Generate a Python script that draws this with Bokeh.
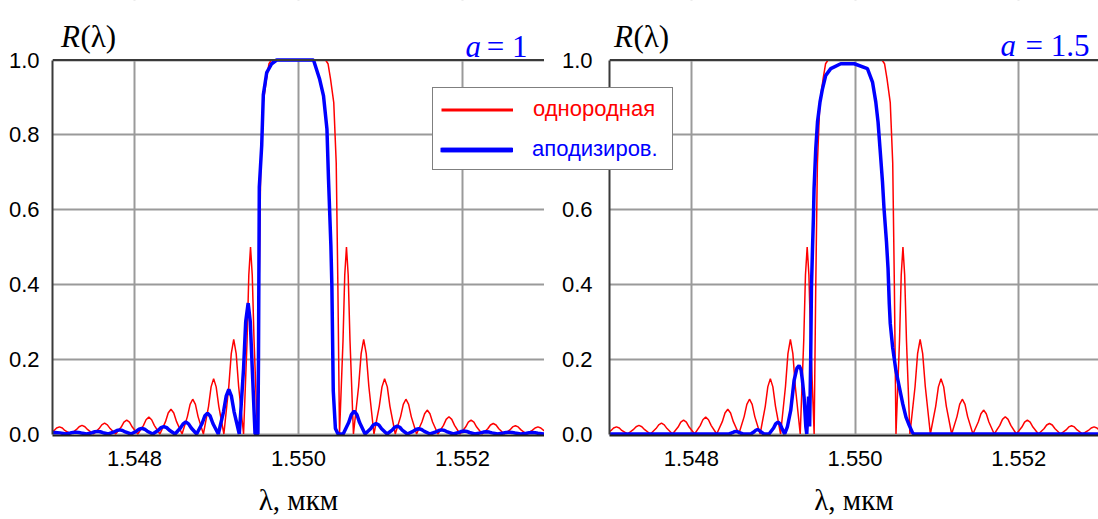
import numpy as np
from bokeh.plotting import figure
from bokeh.models import (Range1d, FixedTicker, Label, Span, Legend, LegendItem,
                          NumeralTickFormatter, BoxAnnotation)
from bokeh.layouts import row
from bokeh.embed import file_html
from bokeh.resources import INLINE

# ---------------- data ----------------
x_ticks = [1.548, 1.550, 1.552]
y_ticks = [0.0, 0.2, 0.4, 0.6, 0.8, 1.0]
panel_params = ["1", "1.5"]
legend_labels = ["однородная", "аподизиров."]

# uniform grating (red), identical in both panels
uniform_wl = [
    1.54700, 1.54702, 1.54705, 1.547085, 1.54712, 1.54715, 1.54722,
    1.54729, 1.547325, 1.54736, 1.547395, 1.54743, 1.54750,
    1.547568, 1.547601, 1.547635, 1.547669, 1.547703, 1.54777,
    1.547838, 1.547871, 1.547905, 1.547939, 1.547973, 1.54804,
    1.548108, 1.548141, 1.548175, 1.548209, 1.548243, 1.54831,
    1.548378, 1.548411, 1.548445, 1.548479, 1.548513, 1.54858,
    1.548645, 1.548678, 1.54871, 1.548743, 1.548775, 1.54884,
    1.548903, 1.548934, 1.548965, 1.548996, 1.549028, 1.54909,
    1.54915, 1.54918, 1.54921, 1.54924, 1.54927, 1.54933,
    1.549373, 1.549394, 1.549415, 1.549436, 1.549458, 1.54950,
    1.54952, 1.54954, 1.54957, 1.54961, 1.54964, 1.54967,
    1.55033, 1.55036, 1.55039, 1.55043, 1.55046, 1.55048, 1.55050,
    1.550543, 1.550564, 1.550585, 1.550606, 1.550628, 1.55067,
    1.550733, 1.550764, 1.550795, 1.550826, 1.550858, 1.55092,
    1.550985, 1.551018, 1.55105, 1.551083, 1.551115, 1.55118,
    1.551245, 1.551278, 1.55131, 1.551343, 1.551375, 1.55144,
    1.551505, 1.551538, 1.55157, 1.551603, 1.551635, 1.55170,
    1.551768, 1.551801, 1.551835, 1.551869, 1.551903, 1.55197,
    1.552038, 1.552071, 1.552105, 1.552139, 1.552173, 1.55224,
    1.552308, 1.552341, 1.552375, 1.552409, 1.552443, 1.55251,
    1.552578, 1.552611, 1.552645, 1.552679, 1.552713, 1.55278,
    1.55285, 1.552885, 1.55292, 1.552955, 1.55299, 1.55306]
uniform_R = [
    0.006, 0.0095, 0.016, 0.019, 0.016, 0.0095, 0.0,
    0.0115, 0.0195, 0.023, 0.0195, 0.0115, 0.0,
    0.0145, 0.0245, 0.029, 0.0245, 0.0145, 0.0,
    0.0185, 0.0315, 0.037, 0.0315, 0.0185, 0.0,
    0.0225, 0.038, 0.045, 0.038, 0.0225, 0.0,
    0.033, 0.056, 0.066, 0.056, 0.033, 0.0,
    0.0465, 0.079, 0.093, 0.079, 0.0465, 0.0,
    0.074, 0.126, 0.148, 0.126, 0.074, 0.0,
    0.127, 0.215, 0.253, 0.215, 0.127, 0.0,
    0.25, 0.425, 0.50, 0.425, 0.25, 0.0,
    0.40, 0.725, 0.886, 0.95, 0.99, 1.0,
    1.0, 0.99, 0.95, 0.886, 0.725, 0.40, 0.0,
    0.25, 0.425, 0.50, 0.425, 0.25, 0.0,
    0.127, 0.215, 0.253, 0.215, 0.127, 0.0,
    0.074, 0.126, 0.148, 0.126, 0.074, 0.0,
    0.0465, 0.079, 0.093, 0.079, 0.0465, 0.0,
    0.032, 0.054, 0.064, 0.054, 0.032, 0.0,
    0.023, 0.039, 0.046, 0.039, 0.023, 0.0,
    0.0185, 0.0315, 0.037, 0.0315, 0.0185, 0.0,
    0.014, 0.024, 0.028, 0.024, 0.014, 0.0,
    0.011, 0.019, 0.022, 0.019, 0.011, 0.0,
    0.0095, 0.016, 0.019, 0.016, 0.0095, 0.0]

# apodized grating, a = 1 (blue, left panel)
apod1_wl = [
    1.54700, 1.54703, 1.54709, 1.54713, 1.547152,
    1.547218, 1.547251, 1.547285, 1.547317, 1.54735, 1.547417,
    1.547483, 1.547516, 1.547549, 1.547582, 1.547615, 1.547681,
    1.54775, 1.547785, 1.547819, 1.547854, 1.547888, 1.547957,
    1.548023, 1.548056, 1.54809, 1.548123, 1.548156, 1.548222,
    1.54829, 1.548324, 1.548358, 1.548392, 1.548426, 1.548494,
    1.54856, 1.548593, 1.548626, 1.548659, 1.548692, 1.548758,
    1.548824, 1.548857, 1.54889, 1.548923, 1.548956, 1.549022,
    1.549086, 1.549118, 1.54915, 1.549182, 1.549214, 1.549278,
    1.549330, 1.549356, 1.549386, 1.549412, 1.549436, 1.549470,
    1.549505, 1.549512, 1.549522, 1.549551, 1.549571, 1.549612, 1.549673, 1.549734,
    1.550183, 1.550256, 1.550305, 1.550347, 1.550366, 1.550395, 1.550407,
    1.550424, 1.550450, 1.550482, 1.550545,
    1.550612, 1.550645, 1.550679, 1.550712, 1.550745, 1.550812,
    1.550879, 1.550912, 1.550946, 1.55098, 1.551013, 1.55108,
    1.551142, 1.551173, 1.551204, 1.551235, 1.551265, 1.551327,
    1.551396, 1.551431, 1.551466, 1.5515, 1.551535, 1.551604,
    1.551675, 1.551711, 1.551746, 1.551782, 1.551817, 1.551888,
    1.551954, 1.551986, 1.552019, 1.552052, 1.552085, 1.55215,
    1.55222, 1.552255, 1.55229, 1.552325, 1.55236, 1.55243,
    1.5525, 1.552535, 1.55257, 1.552605, 1.55264, 1.55271,
    1.55278, 1.552815, 1.55285, 1.552885, 1.55292, 1.55299, 1.55306]
apod1_R = [
    0.0035, 0.004, 0.003, 0.0015, 0.0,
    0.0025, 0.0043, 0.005, 0.0043, 0.0025, 0.0,
    0.0035, 0.006, 0.007, 0.006, 0.0035, 0.0,
    0.0055, 0.0094, 0.011, 0.0094, 0.0055, 0.0,
    0.0075, 0.0128, 0.015, 0.0128, 0.0075, 0.0,
    0.010, 0.017, 0.020, 0.017, 0.010, 0.0,
    0.016, 0.027, 0.032, 0.027, 0.016, 0.0,
    0.028, 0.048, 0.056, 0.048, 0.028, 0.0,
    0.060, 0.101, 0.119, 0.101, 0.060, 0.0,
    0.175, 0.300, 0.350, 0.300, 0.175, 0.0,
    0.0, 0.20, 0.66, 0.77, 0.907, 0.966, 0.99, 1.0,
    1.0, 0.95, 0.904, 0.815, 0.681, 0.503, 0.396,
    0.115, 0.015, 0.0, 0.0,
    0.0305, 0.052, 0.061, 0.052, 0.0305, 0.0,
    0.014, 0.024, 0.028, 0.024, 0.014, 0.0,
    0.0105, 0.018, 0.021, 0.018, 0.0105, 0.0,
    0.007, 0.012, 0.014, 0.012, 0.007, 0.0,
    0.0055, 0.0094, 0.011, 0.0094, 0.0055, 0.0,
    0.004, 0.0068, 0.008, 0.0068, 0.004, 0.0,
    0.003, 0.0051, 0.006, 0.0051, 0.003, 0.0,
    0.0025, 0.0043, 0.005, 0.0043, 0.0025, 0.0,
    0.002, 0.0034, 0.004, 0.0034, 0.002, 0.0, 0.002]

# apodized grating, a = 1.5 (blue, right panel)
apod15_wl = [
    1.54700, 1.54846,
    1.548503, 1.548524, 1.548545, 1.548566, 1.548588, 1.54863,
    1.548726, 1.548767, 1.548787, 1.548808, 1.548828, 1.548848, 1.548889,
    1.548949, 1.549005, 1.54903, 1.549058, 1.549083, 1.549105, 1.54914,
    1.549174, 1.549214, 1.549255, 1.54929, 1.549316, 1.54934, 1.549357, 1.549377,
    1.549398, 1.54941, 1.549432, 1.549445, 1.549458,
    1.549467, 1.549480, 1.549492, 1.549499, 1.549520, 1.549541, 1.549572,
    1.549602, 1.549642, 1.549703, 1.549825, 1.549990,
    1.550151, 1.550213, 1.550253, 1.550281, 1.550305, 1.550335, 1.550354,
    1.550384, 1.550403, 1.550418, 1.550430, 1.550459, 1.550499, 1.550540,
    1.550582, 1.550622, 1.550662, 1.550703, 1.550720, 1.55306]
apod15_R = [
    0.0, 0.0,
    0.0035, 0.006, 0.007, 0.006, 0.0035, 0.0,
    0.0, 0.006, 0.010, 0.012, 0.010, 0.006, 0.0,
    0.0, 0.016, 0.027, 0.032, 0.027, 0.016, 0.0,
    0.02, 0.063, 0.143, 0.176, 0.183, 0.172, 0.143, 0.099,
    0.02, 0.0, 0.10, 0.02, 0.20,
    0.389, 0.495, 0.585, 0.656, 0.763, 0.834, 0.888,
    0.923, 0.959, 0.977, 0.99, 0.99,
    0.977, 0.941, 0.888, 0.834, 0.763, 0.674, 0.602,
    0.513, 0.442, 0.348, 0.295, 0.232, 0.170, 0.126,
    0.081, 0.045, 0.023, 0.003, 0.0, 0.0]

# ---------------- styling ----------------
RED = "#ff0000"
BLUE = "#0000ff"
GRID = "#9a9a9a"
AXIS = "#3a3a3a"
SANS = "Liberation Sans"
SERIF = "Liberation Serif"
PAGE_W = 1098
FRAME_H = 435          # every figure: frame from the page top down to y = 435
BOTTOM = 84            # border below the frame
ZERO_PX = 433.5        # page row of R = 0
PX_PER_UNIT = 374.0    # vertical pixels for R = 0 .. 1


def make_panel(apod_wl, apod_R, frame_w, x_end, border_left, y_standoff):
    y0 = -(FRAME_H - ZERO_PX) / PX_PER_UNIT
    y1 = ZERO_PX / PX_PER_UNIT
    p = figure(output_backend="svg", toolbar_location=None,
               frame_width=frame_w, frame_height=FRAME_H,
               x_range=Range1d(1.547, x_end), y_range=Range1d(y0, y1),
               min_border_left=border_left, min_border_right=0,
               min_border_top=0, min_border_bottom=BOTTOM)
    p.outline_line_color = None
    p.background_fill_color = "white"
    p.border_fill_color = None

    p.xaxis.ticker = FixedTicker(ticks=x_ticks)
    p.yaxis.ticker = FixedTicker(ticks=y_ticks)
    p.xaxis.formatter = NumeralTickFormatter(format="0.000")
    p.yaxis.formatter = NumeralTickFormatter(format="0.0")
    p.yaxis.bounds = (0.0, 1.0)
    for ax in (p.xaxis, p.yaxis):
        ax.major_tick_line_color = None
        ax.minor_tick_line_color = None
        ax.major_tick_out = 0
        ax.major_tick_in = 0
        ax.major_label_text_font = SANS
        ax.major_label_text_font_size = "22px"
        ax.major_label_text_color = "black"
        ax.axis_line_width = 2
    p.yaxis.axis_line_color = AXIS
    p.xaxis.axis_line_color = "#202020"
    p.yaxis.major_label_standoff = y_standoff
    p.xaxis.major_label_standoff = 15
    p.xaxis.axis_label = "λ, мкм"
    p.xaxis.axis_label_text_font = SERIF
    p.xaxis.axis_label_text_font_style = "normal"
    p.xaxis.axis_label_text_font_size = "29px"
    p.xaxis.axis_label_text_color = "black"
    p.xaxis.axis_label_standoff = 15

    p.xgrid.ticker = FixedTicker(ticks=x_ticks)
    p.ygrid.ticker = FixedTicker(ticks=y_ticks)
    p.grid.grid_line_color = GRID
    p.grid.grid_line_width = 2

    # keep the grid inside 0 <= R <= 1 (white above and below)
    p.add_layout(BoxAnnotation(bottom=1.0, fill_color="white", fill_alpha=1.0,
                               line_alpha=0, level="underlay"))
    p.add_layout(BoxAnnotation(top=0.0, fill_color="white", fill_alpha=1.0,
                               line_alpha=0, level="underlay"))

    p.line(uniform_wl, uniform_R, line_color=RED, line_width=1.5)
    p.line(apod_wl, apod_R, line_color=BLUE, line_width=3.5)

    p.add_layout(Span(location=1.0, dimension="width", line_color=AXIS, line_width=2))
    return p


left = make_panel(apod1_wl, apod1_R, 492, 1.553, 52, 13)
right = make_panel(apod15_wl, apod15_R, 489, 1.552974, 65, 17)

# ---------- transparent overlay (page coordinates): titles and shared legend ----------
ov = figure(output_backend="svg", toolbar_location=None,
            frame_width=PAGE_W, frame_height=FRAME_H,
            x_range=Range1d(0, PAGE_W), y_range=Range1d(FRAME_H, 0),
            x_axis_type=None, y_axis_type=None,
            min_border=0, min_border_left=0, min_border_right=0,
            min_border_top=0, min_border_bottom=BOTTOM)
ov.outline_line_color = None
ov.background_fill_color = None
ov.border_fill_color = None
ov.margin = (0, 0, 0, -PAGE_W)

title_specs = [
    # (R x, a x, right edge of "= ..", R baseline, a baseline, parameter)
    (60.5, 465, 527, 36, 46, panel_params[0]),
    (613.5, 1000, 1089, 36, 45, panel_params[1]),
]
for rx, ax_, eq_right, rb, ab, prm in title_specs:
    ov.add_layout(Label(x=rx, y=rb, text="R", text_font=SERIF,
                        text_font_style="italic", text_font_size="31px",
                        text_color="black", text_baseline="alphabetic"))
    ov.add_layout(Label(x=rx + 19.5, y=rb, text="(λ)", text_font=SERIF,
                        text_font_size="31px", text_color="black",
                        text_baseline="alphabetic"))
    ov.add_layout(Label(x=ax_, y=ab, text="a", text_font=SERIF,
                        text_font_style="italic", text_font_size="31px",
                        text_color=BLUE, text_baseline="alphabetic"))
    ov.add_layout(Label(x=eq_right, y=ab, text="= " + prm, text_font=SERIF,
                        text_font_size="31px", text_color=BLUE,
                        text_align="right", text_baseline="alphabetic"))

# legend proxies: one undefined point each, so nothing is drawn in the overlay
g_red = ov.line(x=np.array([np.nan]), y=np.array([np.nan]), line_color=RED, line_width=3)
g_blue = ov.line(x=np.array([np.nan]), y=np.array([np.nan]), line_color=BLUE, line_width=4.5)

LEG_X, LEG_BOTTOM = 432, 170
leg1 = Legend(items=[LegendItem(label=legend_labels[0], renderers=[g_red]),
                     LegendItem(label=" ", renderers=[g_blue])],
              location=(LEG_X, FRAME_H - LEG_BOTTOM))
leg2 = Legend(items=[LegendItem(label=legend_labels[1], renderers=[g_blue])],
              location=(LEG_X, FRAME_H - LEG_BOTTOM))
for lg, col in ((leg1, RED), (leg2, BLUE)):
    lg.padding = 8
    lg.margin = 0
    lg.spacing = 16
    lg.glyph_width = 72
    lg.glyph_height = 23
    lg.label_height = 23
    lg.label_standoff = 20
    lg.label_text_font = SANS
    lg.label_text_font_size = "22px"
    lg.label_text_color = col
    lg.label_text_baseline = "middle"
leg1.label_width = 131
leg1.border_line_color = "black"
leg1.border_line_width = 1
leg1.background_fill_color = "white"
leg1.background_fill_alpha = 1.0
leg2.border_line_alpha = 0
leg2.background_fill_alpha = 0
ov.add_layout(leg1, "center")
ov.add_layout(leg2, "center")

layout = row(left, right, ov)
open("out.html", "w").write(file_html(layout, INLINE))
